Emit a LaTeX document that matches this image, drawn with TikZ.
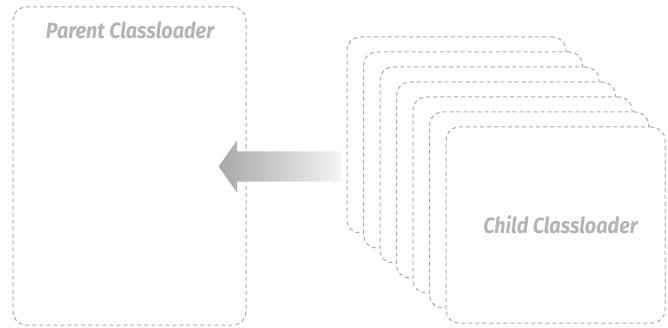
\documentclass[tikz,border=0pt]{standalone}
\usepackage{fontspec}
\usepackage{tikz}
\usetikzlibrary{positioning, shapes.arrows}
\newfontfamily\loaderfont[FakeStretch=0.9]{Fira Sans}
\definecolor{cEDGE}{HTML}{ABABAB}
\definecolor{cTEXT}{HTML}{B4B4B4}
\definecolor{cARRL}{HTML}{A8A8A8}
\definecolor{cARRR}{HTML}{F4F4F4}
\tikzset{
  loaderbox/.style={
    draw=cEDGE, line width=1pt,
    dash pattern=on 4pt off 3pt,
    rounded corners=13pt,
    fill=white,
    inner sep=0pt
  },
  loadertext/.style={
    font=\loaderfont\bfseries\itshape\fontsize{22}{24}\selectfont,
    text=cTEXT,
    inner sep=0pt
  },
  delegate/.style={
    single arrow,
    shape border rotate=180,
    single arrow head extend=11pt,
    single arrow tip angle=110,
    minimum height=122pt,
    text height=15pt, text depth=15pt,
    inner sep=0pt,
    left color=cARRL,
    right color=cARRR,
    draw=none
  }
}

\begin{document}
\begin{tikzpicture}[x=1pt, y=-1pt]
  \useasboundingbox (0,0) rectangle (668,328);

  % parent loader
  \node[loaderbox, minimum width=233pt, minimum height=318pt] (parent) at (129.5,166) {};
  \node[loadertext] (ptitle) at (130,30) {Parent Classloader};

  % delegation arrow
  \node[delegate] (up) at (285,166.5) {};

  % stack of child loaders, back to front
  \foreach \i in {0,...,6}{
    \node[loaderbox, minimum width=219pt, minimum height=196pt] (child\i)
      at ({456.5+16.5*\i},{135+15*\i}) {};
  }
  \node[loadertext, xshift=5pt] (ctitle) at (child6) {Child Classloader};
\end{tikzpicture}
\end{document}
